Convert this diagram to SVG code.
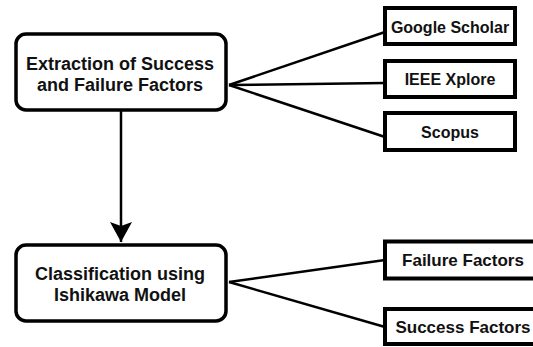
<svg xmlns="http://www.w3.org/2000/svg" width="533" height="347" viewBox="0 0 533 347">
<style>
.rbox{fill:#fff;stroke:#000;stroke-width:3.5}
.sbox{fill:#fff;stroke:#000;stroke-width:4}
.lt{font-family:"Liberation Sans",Arial,sans-serif;font-weight:bold;font-size:18px;text-anchor:middle;fill:#111}
.st{font-family:"Liberation Sans",Arial,sans-serif;font-weight:bold;font-size:16px;text-anchor:middle;fill:#111}
.bt{font-family:"Liberation Sans",Arial,sans-serif;font-weight:bold;font-size:17px;text-anchor:middle;fill:#111}
.conn{stroke:#000;stroke-width:2.5;fill:none}
</style>
<defs>
<marker id="ah" markerUnits="userSpaceOnUse" markerWidth="22" markerHeight="22" viewBox="0 0 22 22" refX="20" refY="11" orient="auto">
<path d="M0,0 L20,11 L0,22 L4,11 Z" fill="#000"/>
</marker>
</defs>
<rect width="533" height="347" fill="#fff"/>
<g id="connectors">
<line class="conn" x1="121" y1="111" x2="121" y2="242" marker-end="url(#ah)" stroke-width="3"/>
<line class="conn" x1="229" y1="85" x2="385" y2="32"/>
<line class="conn" x1="229" y1="85" x2="385" y2="83"/>
<line class="conn" x1="229" y1="85" x2="385" y2="137"/>
<line class="conn" x1="229" y1="282" x2="385" y2="260"/>
<line class="conn" x1="229" y1="282" x2="385" y2="327"/>
</g>
<g id="extraction">
<rect class="rbox" x="16" y="34" width="210" height="76" rx="10"/>
<text class="lt" x="120" y="70">Extraction of Success</text>
<text class="lt" x="120" y="91">and Failure Factors</text>
</g>
<g id="classification">
<rect class="rbox" x="16" y="245" width="210" height="76" rx="10"/>
<text class="lt" x="120" y="280">Classification using</text>
<text class="lt" x="120" y="301">Ishikawa Model</text>
</g>
<g id="google">
<rect class="sbox" x="385" y="8" width="130" height="36"/>
<text class="st" x="450" y="33">Google Scholar</text>
</g>
<g id="ieee">
<rect class="sbox" x="385" y="61" width="130" height="36"/>
<text class="st" x="450" y="85">IEEE Xplore</text>
</g>
<g id="scopus">
<rect class="sbox" x="385" y="113" width="130" height="37"/>
<text class="st" x="450" y="138">Scopus</text>
</g>
<g id="failure">
<rect class="sbox" x="385" y="241.5" width="156" height="37"/>
<text class="bt" x="463" y="266">Failure Factors</text>
</g>
<g id="success">
<rect class="sbox" x="385" y="309" width="156" height="35"/>
<text class="bt" x="463" y="333">Success Factors</text>
</g>
</svg>
